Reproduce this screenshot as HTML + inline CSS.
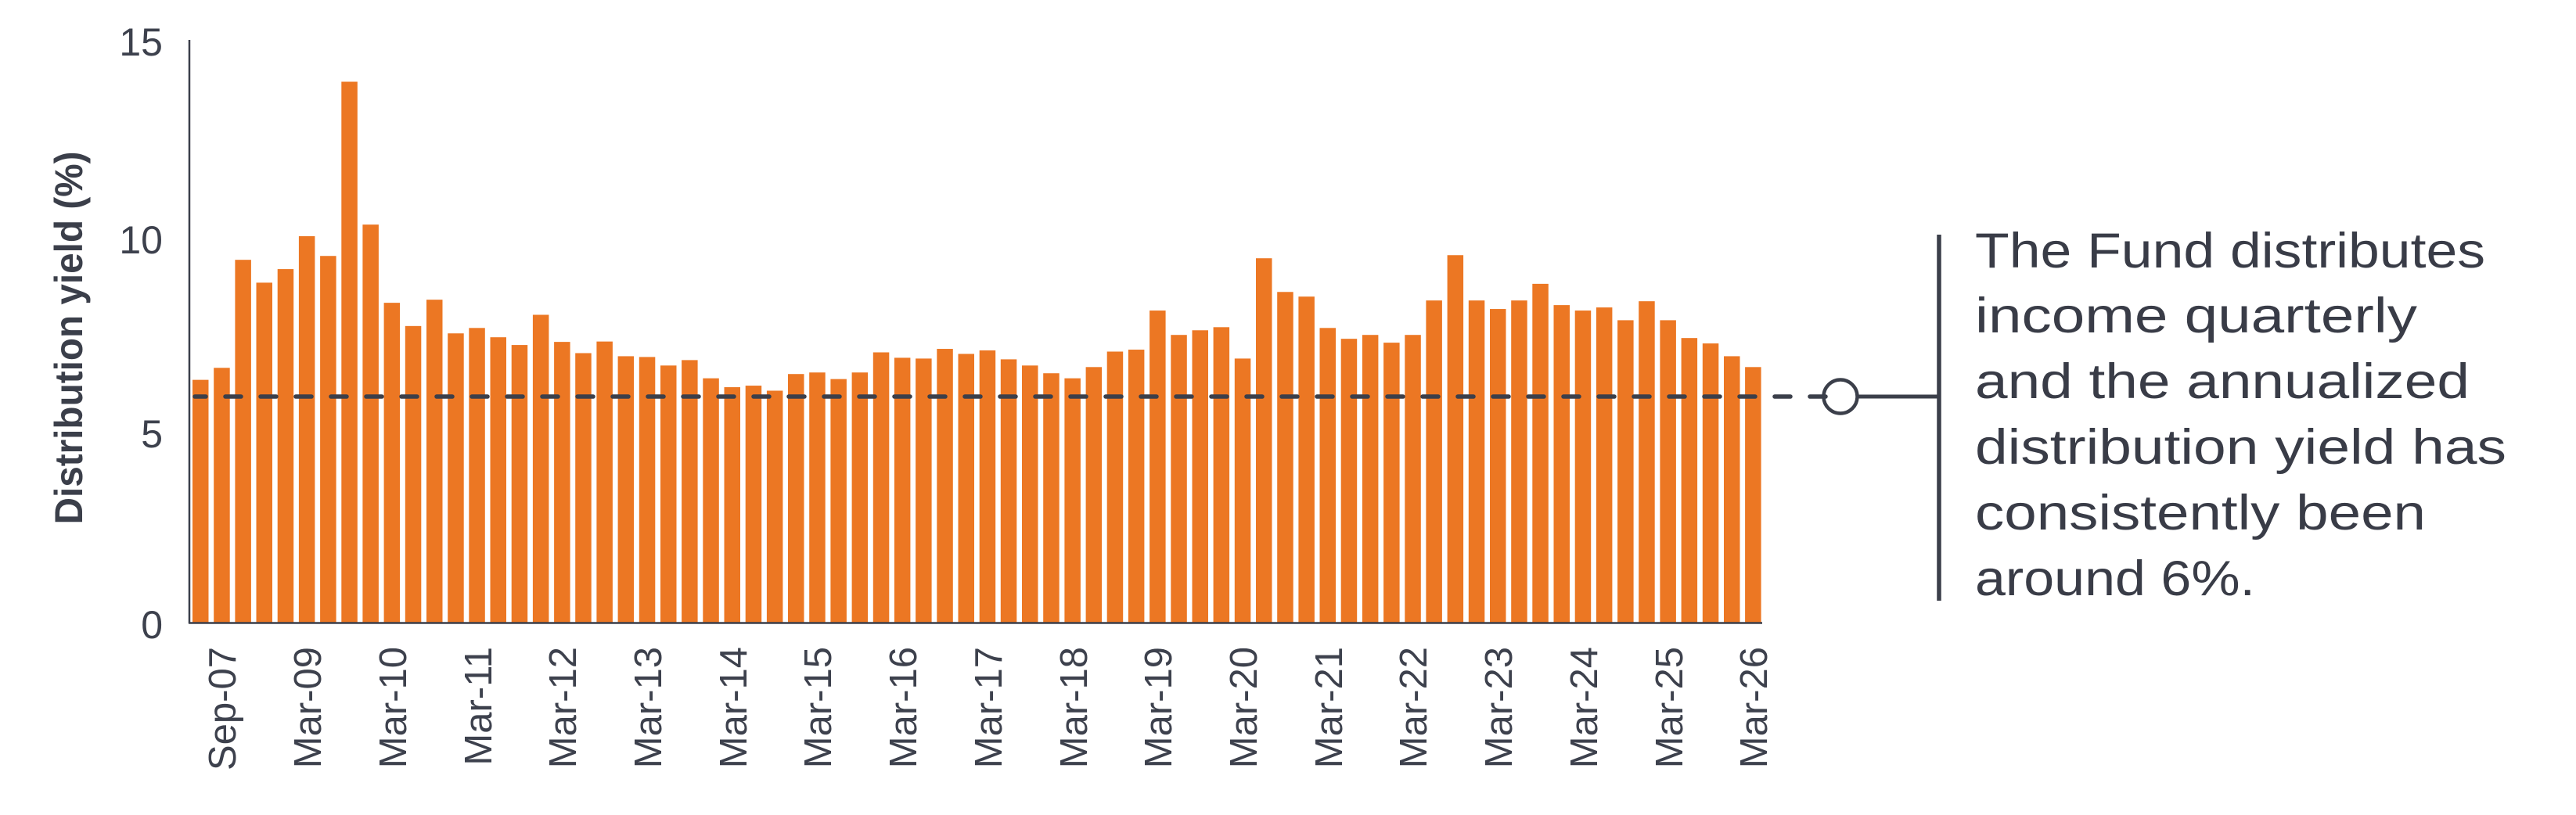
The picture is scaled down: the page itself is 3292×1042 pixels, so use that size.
<!DOCTYPE html>
<html><head><meta charset="utf-8"><style>html,body{margin:0;padding:0;background:#fff}svg{display:block}</style></head>
<body>
<svg width="3292" height="1042" viewBox="0 0 3292 1042" xmlns="http://www.w3.org/2000/svg">
<rect width="3292" height="1042" fill="#fff"/>
<g transform="translate(0,796) scale(1,-49.5)" fill="#EC7723">
<rect x="246.0" y="0" width="20.5" height="6.27"/>
<rect x="273.2" y="0" width="20.5" height="6.58"/>
<rect x="300.4" y="0" width="20.5" height="9.37"/>
<rect x="327.5" y="0" width="20.5" height="8.78"/>
<rect x="354.7" y="0" width="20.5" height="9.13"/>
<rect x="381.9" y="0" width="20.5" height="9.98"/>
<rect x="409.1" y="0" width="20.5" height="9.47"/>
<rect x="436.3" y="0" width="20.5" height="13.97"/>
<rect x="463.4" y="0" width="20.5" height="10.28"/>
<rect x="490.6" y="0" width="20.5" height="8.26"/>
<rect x="517.8" y="0" width="20.5" height="7.66"/>
<rect x="545.0" y="0" width="20.5" height="8.34"/>
<rect x="572.2" y="0" width="20.5" height="7.47"/>
<rect x="599.3" y="0" width="20.5" height="7.61"/>
<rect x="626.5" y="0" width="20.5" height="7.37"/>
<rect x="653.7" y="0" width="20.5" height="7.17"/>
<rect x="680.9" y="0" width="20.5" height="7.95"/>
<rect x="708.1" y="0" width="20.5" height="7.25"/>
<rect x="735.2" y="0" width="20.5" height="6.96"/>
<rect x="762.4" y="0" width="20.5" height="7.26"/>
<rect x="789.6" y="0" width="20.5" height="6.88"/>
<rect x="816.8" y="0" width="20.5" height="6.86"/>
<rect x="844.0" y="0" width="20.5" height="6.64"/>
<rect x="871.1" y="0" width="20.5" height="6.78"/>
<rect x="898.3" y="0" width="20.5" height="6.31"/>
<rect x="925.5" y="0" width="20.5" height="6.08"/>
<rect x="952.7" y="0" width="20.5" height="6.12"/>
<rect x="979.9" y="0" width="20.5" height="5.99"/>
<rect x="1007.0" y="0" width="20.5" height="6.42"/>
<rect x="1034.2" y="0" width="20.5" height="6.46"/>
<rect x="1061.4" y="0" width="20.5" height="6.29"/>
<rect x="1088.6" y="0" width="20.5" height="6.46"/>
<rect x="1115.8" y="0" width="20.5" height="6.98"/>
<rect x="1142.9" y="0" width="20.5" height="6.84"/>
<rect x="1170.1" y="0" width="20.5" height="6.82"/>
<rect x="1197.3" y="0" width="20.5" height="7.07"/>
<rect x="1224.5" y="0" width="20.5" height="6.94"/>
<rect x="1251.7" y="0" width="20.5" height="7.03"/>
<rect x="1278.8" y="0" width="20.5" height="6.80"/>
<rect x="1306.0" y="0" width="20.5" height="6.64"/>
<rect x="1333.2" y="0" width="20.5" height="6.44"/>
<rect x="1360.4" y="0" width="20.5" height="6.31"/>
<rect x="1387.6" y="0" width="20.5" height="6.60"/>
<rect x="1414.7" y="0" width="20.5" height="7.00"/>
<rect x="1441.9" y="0" width="20.5" height="7.05"/>
<rect x="1469.1" y="0" width="20.5" height="8.06"/>
<rect x="1496.3" y="0" width="20.5" height="7.43"/>
<rect x="1523.5" y="0" width="20.5" height="7.55"/>
<rect x="1550.6" y="0" width="20.5" height="7.63"/>
<rect x="1577.8" y="0" width="20.5" height="6.82"/>
<rect x="1605.0" y="0" width="20.5" height="9.41"/>
<rect x="1632.2" y="0" width="20.5" height="8.54"/>
<rect x="1659.4" y="0" width="20.5" height="8.42"/>
<rect x="1686.5" y="0" width="20.5" height="7.61"/>
<rect x="1713.7" y="0" width="20.5" height="7.33"/>
<rect x="1740.9" y="0" width="20.5" height="7.43"/>
<rect x="1768.1" y="0" width="20.5" height="7.23"/>
<rect x="1795.3" y="0" width="20.5" height="7.43"/>
<rect x="1822.4" y="0" width="20.5" height="8.32"/>
<rect x="1849.6" y="0" width="20.5" height="9.49"/>
<rect x="1876.8" y="0" width="20.5" height="8.32"/>
<rect x="1904.0" y="0" width="20.5" height="8.10"/>
<rect x="1931.2" y="0" width="20.5" height="8.32"/>
<rect x="1958.3" y="0" width="20.5" height="8.75"/>
<rect x="1985.5" y="0" width="20.5" height="8.20"/>
<rect x="2012.7" y="0" width="20.5" height="8.06"/>
<rect x="2039.9" y="0" width="20.5" height="8.14"/>
<rect x="2067.1" y="0" width="20.5" height="7.81"/>
<rect x="2094.2" y="0" width="20.5" height="8.30"/>
<rect x="2121.4" y="0" width="20.5" height="7.81"/>
<rect x="2148.6" y="0" width="20.5" height="7.35"/>
<rect x="2175.8" y="0" width="20.5" height="7.21"/>
<rect x="2203.0" y="0" width="20.5" height="6.88"/>
<rect x="2230.1" y="0" width="20.5" height="6.60"/>
</g>
<g stroke="#3b3f4a" fill="none">
<line x1="242" y1="51" x2="242" y2="797" stroke-width="2.5"/>
<line x1="241" y1="796.5" x2="2252" y2="796.5" stroke-width="2.5"/>
<line x1="249" y1="507" x2="2347" y2="507" stroke-width="5.5" stroke-linecap="round" stroke-dasharray="20 25" stroke-dashoffset="6"/>
<circle cx="2352" cy="507" r="21.5" stroke-width="4.5"/>
<line x1="2374" y1="507" x2="2478" y2="507" stroke-width="5"/>
<line x1="2478" y1="300" x2="2478" y2="768" stroke-width="5.5"/>
</g>
<g font-family="Liberation Sans, sans-serif" fill="#3d414d" font-size="50" text-anchor="end">
<text x="208" y="71">15</text>
<text x="208" y="324">10</text>
<text x="208" y="572">5</text>
<text x="208" y="816">0</text>
</g>
<text transform="translate(105,432) rotate(-90)" font-family="Liberation Sans, sans-serif" font-weight="bold" font-size="50" fill="#3b3f4a" text-anchor="middle" textLength="477" lengthAdjust="spacingAndGlyphs">Distribution yield (%)</text>
<g font-family="Liberation Sans, sans-serif" fill="#3d414d" font-size="49" text-anchor="end">
<text transform="translate(301,827) rotate(-90)">Sep-07</text>
<text transform="translate(410,827) rotate(-90)">Mar-09</text>
<text transform="translate(519,827) rotate(-90)">Mar-10</text>
<text transform="translate(628,827) rotate(-90)">Mar-11</text>
<text transform="translate(736,827) rotate(-90)">Mar-12</text>
<text transform="translate(845,827) rotate(-90)">Mar-13</text>
<text transform="translate(954,827) rotate(-90)">Mar-14</text>
<text transform="translate(1062,827) rotate(-90)">Mar-15</text>
<text transform="translate(1171,827) rotate(-90)">Mar-16</text>
<text transform="translate(1280,827) rotate(-90)">Mar-17</text>
<text transform="translate(1389,827) rotate(-90)">Mar-18</text>
<text transform="translate(1497,827) rotate(-90)">Mar-19</text>
<text transform="translate(1606,827) rotate(-90)">Mar-20</text>
<text transform="translate(1715,827) rotate(-90)">Mar-21</text>
<text transform="translate(1823,827) rotate(-90)">Mar-22</text>
<text transform="translate(1932,827) rotate(-90)">Mar-23</text>
<text transform="translate(2041,827) rotate(-90)">Mar-24</text>
<text transform="translate(2150,827) rotate(-90)">Mar-25</text>
<text transform="translate(2258,827) rotate(-90)">Mar-26</text>
</g>
<g font-family="Liberation Sans, sans-serif" fill="#393c47" font-size="63">
<text x="2524" y="342" textLength="652" lengthAdjust="spacingAndGlyphs">The Fund distributes</text>
<text x="2524" y="425" textLength="565" lengthAdjust="spacingAndGlyphs">income quarterly</text>
<text x="2524" y="509" textLength="632" lengthAdjust="spacingAndGlyphs">and the annualized</text>
<text x="2524" y="593" textLength="679" lengthAdjust="spacingAndGlyphs">distribution yield has</text>
<text x="2524" y="677" textLength="576" lengthAdjust="spacingAndGlyphs">consistently been</text>
<text x="2524" y="761" textLength="358" lengthAdjust="spacingAndGlyphs">around 6%.</text>
</g>
</svg>
</body></html>
